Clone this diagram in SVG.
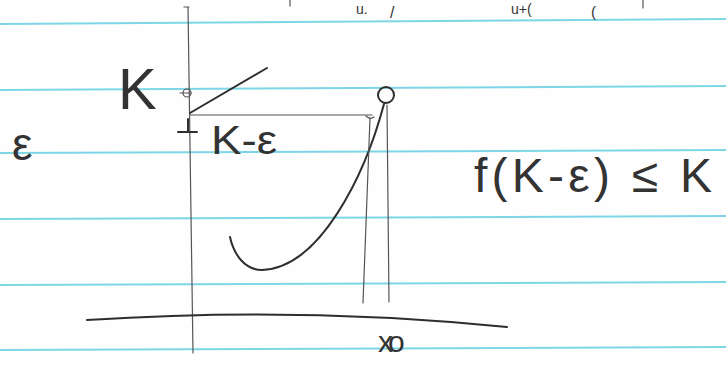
<svg xmlns="http://www.w3.org/2000/svg" width="726" height="371" viewBox="0 0 726 371">
<style>
.rule{stroke:#7dd6e6;stroke-width:2;fill:none}
.ink{stroke:#2e2e2e;stroke-width:2;fill:none;stroke-linecap:round;stroke-linejoin:round}
.thin{stroke:#555;stroke-width:1.2;fill:none;stroke-linecap:round}
.hw{font-family:"Liberation Sans","DejaVu Sans",sans-serif;fill:#333}
</style>
<rect width="726" height="371" fill="#fefefe"/>
<g id="paper-lines">
<line class="rule" x1="0" y1="24" x2="726" y2="19"/>
<line class="rule" x1="0" y1="90" x2="726" y2="86"/>
<line class="rule" x1="0" y1="153" x2="726" y2="150"/>
<line class="rule" x1="0" y1="219" x2="726" y2="216"/>
<line class="rule" x1="0" y1="285" x2="726" y2="282"/>
<line class="rule" x1="0" y1="350" x2="726" y2="347"/>
</g>
<g id="top-scraps">
<text class="hw" x="356" y="14" font-size="14">u.</text>
<text class="hw" x="390" y="18" font-size="16">/</text>
<text class="hw" x="511" y="14" font-size="14">u+(</text>
<text class="hw" x="591" y="17" font-size="15">(</text>
<line class="thin" x1="290" y1="0" x2="290" y2="6"/>
<line class="thin" x1="643" y1="0" x2="643" y2="8"/>
</g>
<g id="axes">
<path class="thin" d="M184 7 L189 7 M188 7 L193 353"/>
<path class="ink" stroke-width="1.6" d="M87 320 Q 300 306 507 327"/>
</g>
<g id="graph">
<line class="ink" stroke-width="2.4" x1="190" y1="113" x2="267" y2="68"/>
<line class="thin" x1="190" y1="115" x2="372" y2="115"/>
<circle class="thin" cx="187" cy="93" r="4"/>
<line class="thin" x1="180" y1="93" x2="191" y2="93"/>
<path class="ink" stroke-width="3" d="M178 132 L197 132 M188 119 L188 132"/>
<path class="thin" d="M366 116 Q 370 120 374 117"/>
<circle class="ink" cx="386" cy="95" r="8"/>
<path class="ink" stroke-width="1.6" d="M384 104 C 365 175, 320 268, 262 270 C 245 270, 234 255, 230 237"/>
<line class="thin" x1="370" y1="118" x2="363" y2="303"/>
<line class="thin" x1="387" y1="105" x2="389" y2="302"/>
</g>
<g id="labels">
<text class="hw" x="118" y="109" font-size="58">K</text>
<text class="hw" x="12" y="160" font-size="46">ε</text>
<text class="hw" x="211" y="154" font-size="40" textLength="66" lengthAdjust="spacingAndGlyphs">K-ε</text>
<text class="hw" x="474" y="192" font-size="48" textLength="238" lengthAdjust="spacing">f(K-ε) ≤ K</text>
<text class="hw" x="378" y="352" font-size="30" letter-spacing="-5">xo</text>
</g>
</svg>
